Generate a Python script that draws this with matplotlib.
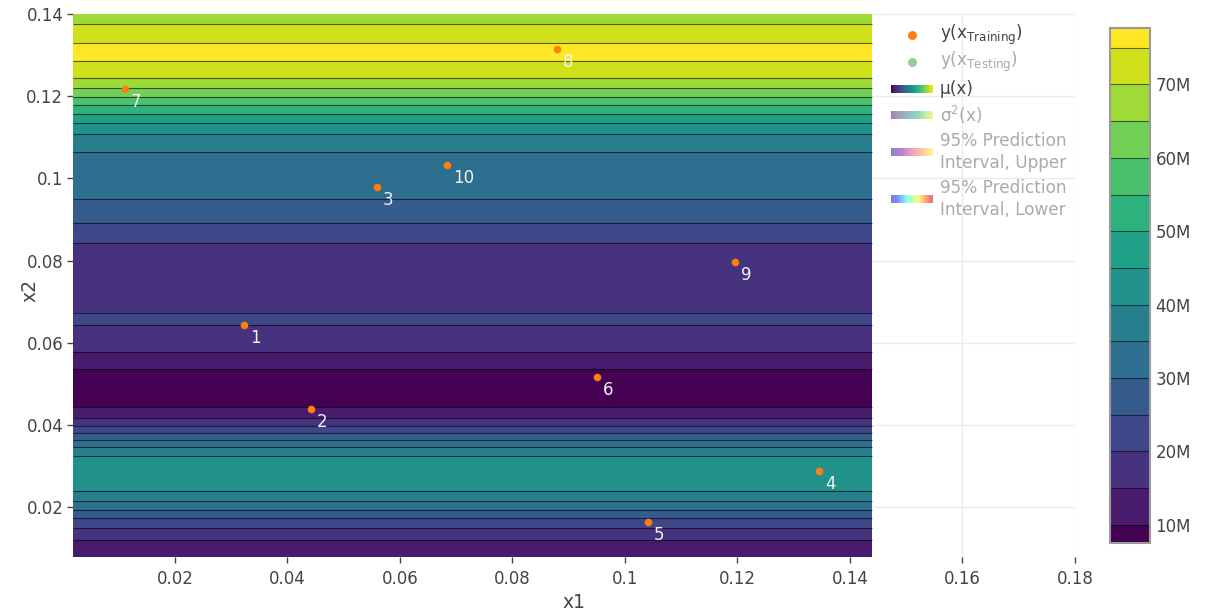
import numpy as np
import matplotlib
matplotlib.use('Agg')
import matplotlib.pyplot as plt
from matplotlib.ticker import FuncFormatter

x1_range = [0.00187, 0.1439]
x2_profile = [0.00796, 0.01219, 0.01511, 0.01744, 0.01949, 0.02151, 0.02401, 0.02832,
              0.03246, 0.03472, 0.03635, 0.03812, 0.03975, 0.04187, 0.04445, 0.04900,
              0.05379, 0.05783, 0.06426, 0.06579, 0.06732, 0.07576, 0.08421, 0.08907,
              0.09506, 0.10650, 0.11073, 0.11341, 0.11567, 0.11779, 0.11988, 0.12192,
              0.12450, 0.12856, 0.13075, 0.13302, 0.13749, 0.13993]
mu_profile = [12, 15, 20, 25, 30, 35, 40, 44,
              40, 35, 30, 25, 20, 15, 10, 7.6,
              10, 15, 20, 21, 20, 17, 20, 25,
              30, 35, 40, 45, 50, 55, 60, 65,
              70, 75, 77.6, 75, 70, 67]

# training points
x1_train = [0.03227, 0.04418, 0.05591, 0.13449, 0.10409, 0.09502, 0.01111, 0.08791, 0.11956, 0.06836]
x2_train = [0.06433, 0.04389, 0.09791, 0.02881, 0.01640, 0.05168, 0.12175, 0.13148, 0.07966, 0.10326]
point_labels = ['1', '2', '3', '4', '5', '6', '7', '8', '9', '10']

levels = [7.5, 10, 15, 20, 25, 30, 35, 40, 45, 50, 55, 60, 65, 70, 75, 77.7]
cbar_ticks = [10, 20, 30, 40, 50, 60, 70]
x_ticks = [0.02, 0.04, 0.06, 0.08, 0.1, 0.12, 0.14, 0.16, 0.18]
y_ticks = [0.02, 0.04, 0.06, 0.08, 0.1, 0.12, 0.14]

W, H = 1217, 613
text_col = '#444444'
fig = plt.figure(figsize=(W / 100, H / 100), dpi=100)

ax = fig.add_axes([73 / W, 1 - 557 / H, (1075 - 73) / W, (557 - 14) / H])
x1g = np.array(x1_range)
Z = np.outer(np.array(mu_profile) * 1e6, np.ones(len(x1g)))
lev = np.array(levels) * 1e6
band_colors = plt.cm.viridis(np.linspace(0, 1, len(levels) - 1))
cf = ax.contourf(x1g, x2_profile, Z, levels=lev, colors=band_colors)
ax.contour(x1g, x2_profile, Z, levels=lev[1:-1], colors='black', linewidths=0.8, alpha=0.6)

ax.scatter(x1_train, x2_train, s=30, color='#ff7f0e', zorder=5, linewidths=0)
for px, py, lab in zip(x1_train, x2_train, point_labels):
    ax.annotate(lab, (px, py), xytext=(6, -4), textcoords='offset pixels',
                ha='left', va='top', fontsize=12, color='#f2f2f2', zorder=6)

ax.set_xlim(0.00187, 0.18)
ax.set_ylim(0.00796, 0.14)
ax.set_xticks(x_ticks)
ax.set_xticklabels(['%g' % t for t in x_ticks])
ax.set_yticks(y_ticks)
ax.set_yticklabels(['%g' % t for t in y_ticks])
ax.tick_params(axis='both', colors=text_col, labelsize=12, length=4, width=1)
ax.tick_params(axis='x', pad=5)
ax.tick_params(axis='y', pad=3)
ax.grid(True, color='#ebebeb', linewidth=1)
ax.set_axisbelow(True)
for s in ax.spines.values():
    s.set_visible(False)
ax.set_xlabel('x1', fontsize=13.5, color=text_col)
ax.set_ylabel('x2', fontsize=13.5, color=text_col)
ax.xaxis.label.set_va('center')
ax.xaxis.set_label_coords(0.5, (557 - 603) / 543)
ax.yaxis.label.set_va('center')
ax.yaxis.set_label_coords((30 - 73) / 1002, 0.49)

# colorbar
cax = fig.add_axes([1110 / W, 1 - 543 / H, 40 / W, 515 / H])
cb = fig.colorbar(cf, cax=cax, spacing='proportional', drawedges=True,
                  ticks=[t * 1e6 for t in cbar_ticks])
cb.ax.yaxis.set_major_formatter(FuncFormatter(lambda v, p: '%dM' % round(v / 1e6)))
cb.ax.tick_params(length=0, labelsize=12, colors=text_col, pad=4)
cb.outline.set_edgecolor('#9a9a9a')
cb.outline.set_linewidth(1.5)
cb.dividers.set_color('black')
cb.dividers.set_alpha(0.55)
cb.dividers.set_linewidth(0.8)

# legend, drawn in pixel coordinates
lax = fig.add_axes([880 / W, 1 - 230 / H, 200 / W, 215 / H])
lax.axis('off')
faded = '#aaaaaa'
lax.scatter([912], [35], s=42, color='#ff7f0e', linewidths=0)
lax.scatter([912], [62], s=42, color='#2ca02c', alpha=0.5, linewidths=0)
grad = np.linspace(0, 1, 256).reshape(1, -1)
swatches = [(89, 'viridis', 1.0), (115, 'viridis', 0.5), (152, 'plasma', 0.5), (199, 'jet', 0.5)]
for yc, cmap, a in swatches:
    lax.imshow(grad, extent=(891, 933, yc + 4, yc - 4), cmap=cmap, alpha=a, aspect='auto')
entries = [(35, 'y(x$_{\\mathregular{Training}}$)', text_col),
           (62, 'y(x$_{\\mathregular{Testing}}$)', faded),
           (89, 'μ(x)', text_col),
           (115, 'σ$^{\\mathregular{2}}$(x)', faded),
           (141, '95% Prediction', faded),
           (163, 'Interval, Upper', faded),
           (188, '95% Prediction', faded),
           (210, 'Interval, Lower', faded)]
for yc, txt, col in entries:
    lax.text(940, yc, txt, va='center', ha='left', fontsize=12.2, color=col)
lax.set_xlim(880, 1080)
lax.set_ylim(230, 15)

fig.savefig('out.png', dpi=100)
